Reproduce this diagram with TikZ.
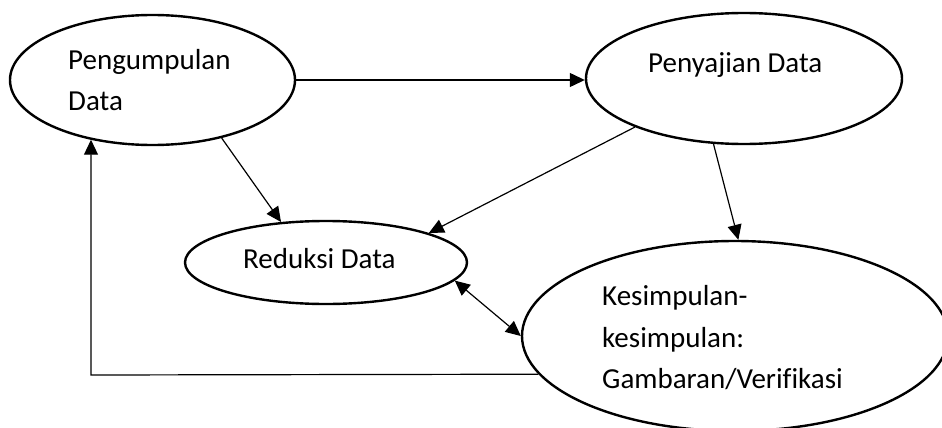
\documentclass[tikz,border=0pt]{standalone}
\usepackage{fontspec}
\setmainfont[Ligatures=NoCommon]{Carlito}
\usetikzlibrary{shapes.geometric,arrows.meta}
\begin{document}
\begin{tikzpicture}[x=1pt,y=-1pt,
  bubble/.style={draw=black,ellipse,line width=2.4pt,inner sep=0pt},
  lbl/.style={anchor=base west,inner sep=0pt,font=\fontsize{29pt}{35pt}\selectfont},
  conn/.style={line width=1.2pt,-{Triangle[length=15pt,width=14pt]}},
  dconn/.style={line width=1.2pt,{Triangle[length=15pt,width=14pt]}-{Triangle[length=15pt,width=14pt]}}]
\clip (0,0) rectangle (942,428);
\fill[white] (0,0) rectangle (942,428);
% ellipses
\node[bubble,minimum width=285pt,minimum height=130pt] (e1) at (152.5,80) {};
\node[bubble,minimum width=316pt,minimum height=131pt] (e2) at (744,78.5) {};
\node[bubble,minimum width=282pt,minimum height=83pt] (e3) at (326,262.5) {};
\node[bubble,minimum width=426pt,minimum height=190pt] (e4) at (735,336) {};
% labels
\node[lbl] (t1a) at (68,70) {Pengumpulan};
\node[lbl] (t1b) at (68,110.5) {Data};
\node[lbl] (t2) at (648,73) {Penyajian Data};
\node[lbl] (t3) at (243,268.5) {Reduksi Data};
\node[lbl] (t4a) at (602,305.5) {Kesimpulan-};
\node[lbl] (t4b) at (602,347.5) {kesimpulan:};
\node[lbl] (t4c) at (602,388.5) {Gambaran/Verifikasi};
% connectors
\draw[conn] (e1.east) -- (e1.east -| e2.west);
\draw[conn] (e1.-40) -- (e3.138);
\draw[conn] (e2.-156.6) -- (e3.16);
\draw[conn] (e2.-115.3) -- (e4.88);
\draw[dconn] (e3.-8.6) -- (e4.180.5);
\coordinate (fb) at (91,375);
\draw[conn] (e4.191.5) -- (fb) -- (fb |- e1.-136.4);
\end{tikzpicture}
\end{document}
